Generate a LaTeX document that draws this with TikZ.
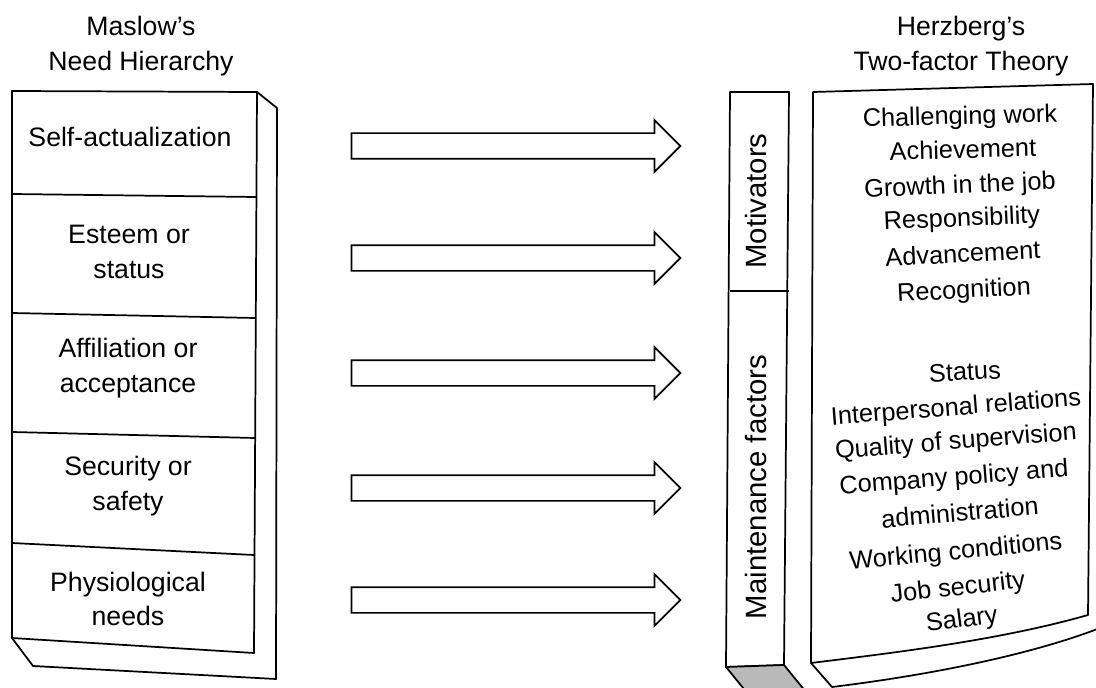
\documentclass[tikz,border=0pt]{standalone}
\usepackage{fontspec}
\setmainfont{Liberation Sans}
\usetikzlibrary{shapes.arrows}

\tikzset{
  edgeline/.style={line width=1.3pt, line join=round},
  heading/.style={inner sep=0.75pt, align=center, font=\fontsize{20}{26}\selectfont},
  sidelabel/.style={inner sep=0.75pt, rotate=90, font=\fontsize{22}{26}\selectfont},
  factor/.style={inner sep=0pt, text height=13pt, text depth=3.5pt,
    font=\fontsize{19}{24}\selectfont},
  blockarrow/.style={single arrow, draw, line width=1.3pt, fill=white,
    minimum height=246.75pt, minimum width=37.5pt, inner sep=9pt,
    single arrow head extend=9.75pt}
}

\begin{document}
\begin{tikzpicture}[x=0.75pt,y=0.75pt,yscale=-1,xscale=1]
\useasboundingbox (0,0) rectangle (1096,688);

% Titles
\node[heading] (maslow) at (141,46) {Maslow's\\Need Hierarchy};
\node[heading] (herzberg) at (961,46) {Herzberg's\\Two-factor Theory};

% Maslow block: front face
\draw[edgeline] (12,91) -- (257,92) -- (254,653) -- (12,638) -- cycle;
% Maslow block: side and bottom
\draw[edgeline] (257,92) -- (277,108) -- (276,679) -- (33,666) -- (12,638);
% Level separators
\draw[edgeline] (12,194) -- (256,197);
\draw[edgeline] (12,313) -- (255,318);
\draw[edgeline] (12,432) -- (255,438);
\draw[edgeline] (12,543) -- (254,555);

% Need levels
\node[heading] (selfact) at (130,137) {Self-actualization};
\node[heading] (esteem) at (129,252) {Esteem or\\status};
\node[heading] (affil) at (128,368) {Affiliation or\\acceptance};
\node[heading] (security) at (128,486) {Security or\\safety};
\node[heading] (physio) at (128,599) {Physiological\\needs};

% Block arrows
\foreach \yy [count=\i] in {146,258,373,488,600}
  \node[blockarrow] (arrow\i) at (509.5,\yy) {};

% Factor column
\draw[edgeline] (730,92) -- (789,92) -- (784,665) -- (726,667) -- cycle;
\draw[edgeline] (730,291) -- (789,291);
\filldraw[edgeline, fill=gray!55] (726,667) -- (784,665) -- (806,692) -- (748,694) -- cycle;
\node[sidelabel] (motiv) at (756,201) {Motivators};
\node[sidelabel] (maint) at (756,487) {Maintenance factors};

% Herzberg panel
\draw[edgeline] (813,92) -- (1093,84) -- (1088,615) .. controls (1000,640) and (900,652) .. (811,663) -- cycle;
\draw[edgeline] (811,663) -- (832,687) .. controls (930,675) and (1030,655) .. (1100,628);

% Factors
\foreach \txt/\xx/\yy/\ang [count=\i] in {
    Challenging work/960/118/1.5, Achievement/963/152/1.5,
    Growth in the job/960/187/2.5, Responsibility/962/220/2.5,
    Advancement/963/256/3, Recognition/964/292/3,
    Status/965/374/3, Interpersonal relations/956/409/4.5,
    Quality of supervision/956/443/4.5, Company policy and/954/479/4.5,
    administration/960/515/5, Working conditions/956/553/5.5,
    Job security/958/589/6.5, Salary/962/621/7.5}
  \node[factor, rotate=\ang] (fac\i) at (\xx,\yy) {\txt};

\end{tikzpicture}
\end{document}
